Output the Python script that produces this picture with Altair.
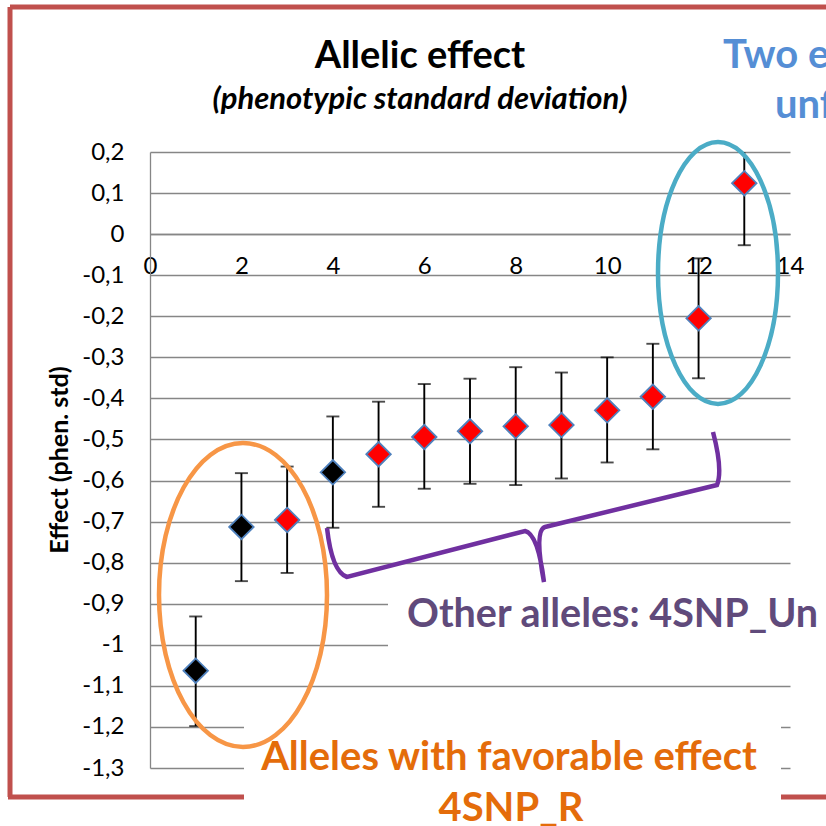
import altair as alt
import pandas as pd

# ---- data ----
allele = [1, 2, 3, 4, 5, 6, 7, 8, 9, 10, 11, 12, 13]
effect = [-1.063, -0.713, -0.696, -0.580, -0.536, -0.494, -0.480, -0.468, -0.465, -0.429, -0.396, -0.205, 0.124]
lower = [-1.198, -0.845, -0.825, -0.715, -0.664, -0.620, -0.608, -0.611, -0.595, -0.556, -0.524, -0.351, -0.027]
upper = [-0.931, -0.582, -0.566, -0.444, -0.408, -0.365, -0.352, -0.324, -0.337, -0.300, -0.267, -0.059, 0.275]
fill = ["#000000", "#000000", "#ff0000", "#000000", "#ff0000", "#ff0000", "#ff0000",
        "#ff0000", "#ff0000", "#ff0000", "#ff0000", "#ff0000", "#ff0000"]

x_ticks = [0, 2, 4, 6, 8, 10, 12, 14]
y_ticks = [-1.3, -1.2, -1.1, -1.0, -0.9, -0.8, -0.7, -0.6, -0.5, -0.4, -0.3, -0.2, -0.1, 0.0, 0.1, 0.2]

title_text = "Allelic effect"
subtitle_text = "(phenotypic standard deviation)"
y_title = "Effect (phen. std)"
label_two_1 = "Two extreme alleles"
label_two_2 = "unfavorable effect"
label_other = "Other alleles: 4SNP_Un"
label_fav_1 = "Alleles with favorable effect"
label_fav_2 = "4SNP_R"

df = pd.DataFrame({"allele": allele, "effect": effect, "lower": lower,
                   "upper": upper, "fill": fill})

FONT = "Lato"
W, H = 640, 616  # plot area (150..790, 152..768)

xs = alt.Scale(domain=[0, 14], nice=False, zero=False)
ys = alt.Scale(domain=[-1.3, 0.2], nice=False, zero=False)

label_expr = "replace(replace(format(datum.value, '.1~f'), '.', ','), '\u2212', '-')"

base = alt.Chart(df)

def box(x1, y1, x2, y2):
    return base.mark_rect(color="white").encode(
        x=alt.value(x1 - 150), x2=alt.value(x2 - 150),
        y=alt.value(y1 - 152), y2=alt.value(y2 - 152))

grid_holder = base.mark_point(opacity=0).encode(
    x=alt.X("allele:Q", scale=xs,
            axis=alt.Axis(values=x_ticks, title=None, grid=False, ticks=False,
                          domain=True, domainColor="#868686", domainWidth=1.3,
                          labelFont=FONT, labelFontSize=24, labelColor="#000000",
                          labelPadding=20, offset=-(H - 82), labelFlush=False)),
    y=alt.Y("effect:Q", scale=ys,
            axis=alt.Axis(values=y_ticks, title=None, grid=True, gridColor="#868686",
                          gridWidth=1.3, ticks=False, domain=True, domainColor="#868686",
                          domainWidth=1.3, labelFont=FONT, labelFontSize=24,
                          labelColor="#000000", labelPadding=26, labelExpr=label_expr,
                          labelFlush=False)),
)

cover_other = box(388, 582, 826, 665)
cover_fav = box(244, 718, 781, 826)

err = base.mark_rule(color="black", strokeWidth=1.9, clip=True).encode(
    x=alt.X("allele:Q", scale=xs), y=alt.Y("lower:Q", scale=ys), y2="upper:Q")
cap_lo = base.mark_tick(color="black", thickness=1.9, size=13, orient="horizontal", clip=True).encode(
    x=alt.X("allele:Q", scale=xs), y=alt.Y("lower:Q", scale=ys))
cap_hi = base.mark_tick(color="black", thickness=1.9, size=13, orient="horizontal", clip=True).encode(
    x=alt.X("allele:Q", scale=xs), y=alt.Y("upper:Q", scale=ys))

pts = base.mark_point(shape="diamond", filled=True, size=600, opacity=1,
                      stroke="#4f81bd", strokeWidth=1.8).encode(
    x=alt.X("allele:Q", scale=xs), y=alt.Y("effect:Q", scale=ys),
    fill=alt.Fill("fill:N", scale=None))

def ellipse_path(rx, ry):
    k = 0.5523
    return (f"M {rx},0 C {rx},{k*ry} {k*rx},{ry} 0,{ry} "
            f"C {-k*rx},{ry} {-rx},{k*ry} {-rx},0 "
            f"C {-rx},{-k*ry} {-k*rx},{-ry} 0,{-ry} "
            f"C {k*rx},{-ry} {rx},{-k*ry} {rx},0 Z")

one = pd.DataFrame({"k": [0]})
def deco(path, cx, cy, color, width):
    return alt.Chart(one).mark_point(shape=path, size=4, filled=False, opacity=1,
                                     stroke=color, strokeWidth=width).encode(
        x=alt.value(cx - 150), y=alt.value(cy - 152))

orange_ell = deco(ellipse_path(84, 152), 243, 595, "#f79646", 4.5)
blue_ell = deco(ellipse_path(60, 131), 718, 273, "#4bacc6", 4.5)
brace_path = ("M 0,0 Q 5,44 20,49 L 198,3 Q 211,6 217,54 "
              "Q 207,2 218,-1 L 390,-43 Q 396,-58 386,-96")
brace = deco(brace_path, 327, 528, "#7030a0", 4.5)

frame_c = "#c0504d"
def rule(x1, y1, x2, y2):
    return alt.Chart(one).mark_rule(color=frame_c, strokeWidth=5).encode(
        x=alt.value(x1 - 150), x2=alt.value(x2 - 150),
        y=alt.value(y1 - 152), y2=alt.value(y2 - 152))

frame = [rule(10, 7, 830, 7), rule(10, 7, 10, 797), rule(8, 797, 244, 797), rule(781, 797, 830, 797)]

def txt(t, x, y, size, color, align="center", italic=False, angle=0):
    props = dict(text=t, font=FONT, fontSize=size, fontWeight="bold", color=color,
                 align=align, baseline="alphabetic")
    if italic:
        props["fontStyle"] = "italic"
    if angle:
        props["angle"] = angle
        props["baseline"] = "middle"
    return alt.Chart(one).mark_text(**props).encode(x=alt.value(x - 150), y=alt.value(y - 152))

texts = [
    txt(title_text, 420, 68, 38, "#000000"),
    txt(subtitle_text, 420, 109, 31, "#000000", italic=True),
    txt(y_title, 60, 460, 25, "#000000", angle=270),
    txt(label_two_1, 723, 68, 40, "#558ed5", align="left"),
    txt(label_two_2, 775, 118, 40, "#558ed5", align="left"),
    txt(label_other, 407, 627, 39.5, "#604a7b", align="left"),
    txt(label_fav_1, 509, 770, 40, "#e46c0a"),
    txt(label_fav_2, 511, 821, 40, "#e46c0a"),
]

chart = alt.layer(grid_holder, cover_other, cover_fav, err, cap_lo, cap_hi, pts,
                  orange_ell, blue_ell, brace, *frame, *texts).properties(
    width=W, height=H,
    autosize=alt.AutoSizeParams(type="none"),
    padding={"left": 150, "top": 152, "right": 36, "bottom": 58},
    background="white",
).configure_view(stroke=None)

chart.save("out.html", embed_options={"renderer": "svg", "actions": False})
